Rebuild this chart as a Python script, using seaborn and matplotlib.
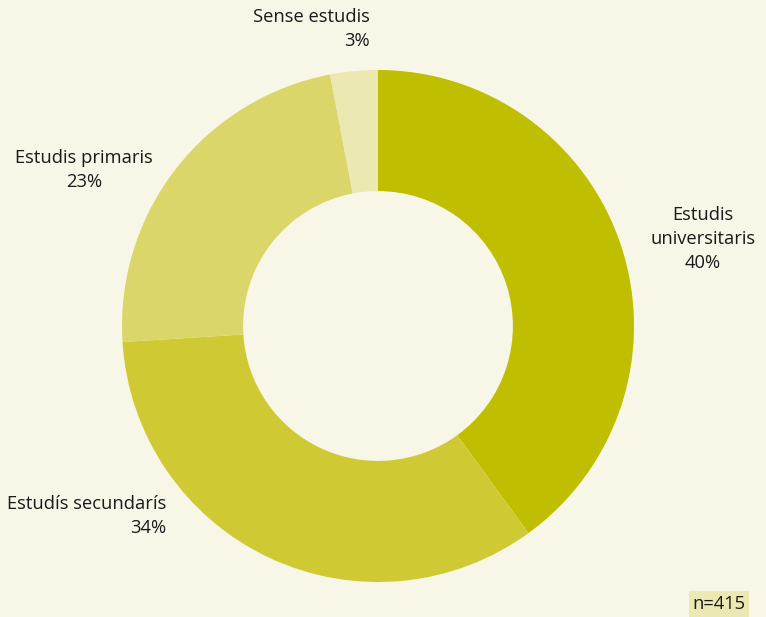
import matplotlib
matplotlib.use("Agg")
import matplotlib.pyplot as plt
import seaborn as sns

# Education level distribution (n=415)
categories = ["Estudis\nuniversitaris", "Estudís secundarís", "Estudis primaris", "Sense estudis"]
values = [40, 34, 23, 3]
pct_labels = ["40%", "34%", "23%", "3%"]
slice_colors = ["#C0BE00", "#CFCA33", "#DAD66A", "#EBE8B2"]
sample_note = "n=415"

BG = "#F8F6E6"

sns.set_theme(style="white")
plt.rcParams["font.family"] = ["Open Sans", "DejaVu Sans"]

fig = plt.figure(figsize=(7.66, 6.17), dpi=100, facecolor=BG)
ax = fig.add_axes([122 / 766, 35 / 617, 512 / 766, 512 / 617])
ax.set_facecolor(BG)

palette = sns.color_palette(slice_colors)
ax.pie(values, colors=palette, startangle=90, counterclock=False, radius=1,
       wedgeprops=dict(width=0.473, linewidth=0))
ax.set_xlim(-1, 1)
ax.set_ylim(-1, 1)
ax.set_aspect("equal")
ax.axis("off")

fs = 13.2
txt = dict(fontsize=fs, color="#1a1a1a", linespacing=1.42)

def fx(px):
    return px / 766

def fy(py):
    return 1 - py / 617

# Labels placed around the ring
fig.text(fx(703), fy(239), categories[0] + "\n" + pct_labels[0], ha="center", va="center", **txt)
fig.text(fx(166), fy(516), categories[1] + "\n" + pct_labels[1], ha="right", va="center", **txt)
fig.text(fx(84), fy(170), categories[2] + "\n" + pct_labels[2], ha="center", va="center", **txt)
fig.text(fx(370), fy(29), categories[3] + "\n" + pct_labels[3], ha="right", va="center", **txt)

fig.text(fx(719), fy(604), sample_note, ha="center", va="center", fontsize=fs, color="#1a1a1a",
         bbox=dict(boxstyle="square,pad=0.2", facecolor="#EBE8B2", edgecolor="none"))

fig.savefig("out.png", dpi=100, facecolor=BG)
